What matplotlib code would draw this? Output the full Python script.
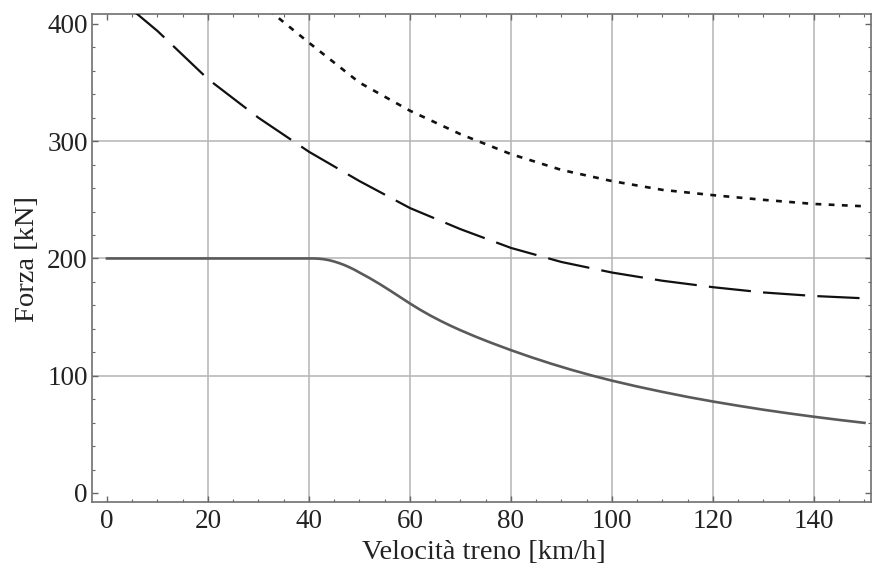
import numpy as np
import matplotlib
matplotlib.use("Agg")
import matplotlib.pyplot as plt
from matplotlib.ticker import MultipleLocator

# Data
speed_solid = [0, 10, 20, 30, 40, 41, 42, 43, 44, 45, 46, 47, 48, 49, 50, 52, 54, 56, 58, 60, 62, 64, 66, 68, 70,
               73, 76, 80, 84, 88, 92, 96, 100, 105, 110, 115, 120, 125, 130, 135, 140, 145, 150]
force_solid = [200, 200, 200, 200, 200, 200, 199.8, 199.3, 198.5, 197.4, 196, 194.4, 192.5, 190.4, 188, 183.3, 178.2, 172.8, 167.2, 161.6, 156.3, 151.4, 146.9, 142.7, 138.8,
               133.3, 128.2, 121.8, 115.8, 110.2, 105, 100.2, 95.8, 90.8, 86.2, 81.9, 78, 74.4, 71, 67.9, 65, 62.3, 59.8]

speed_dashed = [5, 10, 20, 30, 40, 50, 60, 70, 80, 90, 100, 110, 120, 130, 140, 150]
force_dashed = [412, 394, 353, 320, 291, 266, 243, 225, 209, 197, 188, 181, 175.5, 171, 168, 166]

speed_dotted = [32, 40, 50, 60, 70, 80, 90, 100, 110, 120, 130, 140, 150]
force_dotted = [412, 384, 350, 326, 306, 289, 275.5, 266, 258.5, 254, 250, 246.5, 244.5]

x_major = [0, 20, 40, 60, 80, 100, 120, 140]
y_major = [0, 100, 200, 300, 400]
x_grid = [20, 40, 60, 80, 100, 120, 140]
y_grid = [100, 200, 300]

plt.rcParams['font.family'] = ['Liberation Serif', 'DejaVu Serif']

fig = plt.figure(figsize=(8.72, 5.74), dpi=100)
ax = fig.add_axes([92/872, 1 - 502/574, (871-92)/872, (502-14)/574])

ax.set_xlim(-2.97, 151.3)
ax.set_ylim(-7.7, 408.5)

for gx in x_grid:
    ax.axvline(gx, color='#b4b4b4', lw=1.1, zorder=1)
for gy in y_grid:
    ax.axhline(gy, color='#b4b4b4', lw=1.1, zorder=1)

ax.plot(speed_solid, force_solid, color='#5a5a5a', lw=1.9, zorder=3)
ax.plot(speed_dashed, force_dashed, color='#111111', lw=1.6, dashes=(19, 5.5), zorder=3)
ax.plot(speed_dotted, force_dotted, color='#111111', lw=1.9, dashes=(2.2, 2.8), zorder=3)

ax.set_xticks(x_major)
ax.set_yticks(y_major)
ax.xaxis.set_minor_locator(MultipleLocator(5))
ax.yaxis.set_minor_locator(MultipleLocator(20))
ax.tick_params(which='both', direction='in', top=True, right=True, colors='#666666',
               labelcolor='#222222', labelsize=19.5)
ax.tick_params(which='major', length=4, width=1.0)
ax.tick_params(which='minor', length=2.2, width=0.8)
ax.tick_params(axis='x', pad=5)
ax.tick_params(axis='y', pad=3)

for s in ax.spines.values():
    s.set_color('#707070')
    s.set_linewidth(1.2)

ax.set_xlabel('Velocità treno [km/h]', fontsize=20.5, color='#222222', va='center')
ax.xaxis.set_label_coords(0.503, -0.103)
ax.set_ylabel('Forza [kN]', fontsize=20.5, color='#222222', va='center', ha='center')
ax.yaxis.set_label_coords(-0.0834, 0.497)

fig.savefig('out.png', dpi=100)
